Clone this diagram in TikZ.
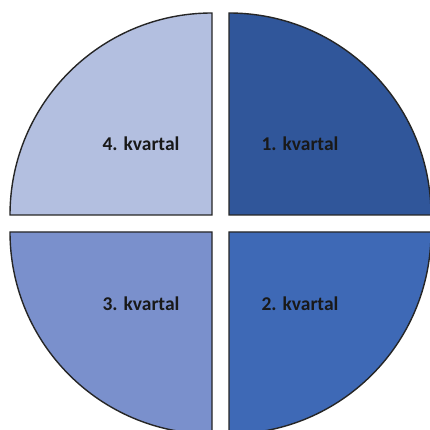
\documentclass[tikz,border=0pt]{standalone}
\usepackage{fontspec}
\setmainfont{Carlito}
\definecolor{qone}{RGB}{48,86,154}
\definecolor{qtwo}{RGB}{62,105,182}
\definecolor{qthree}{RGB}{122,144,204}
\definecolor{qfour}{RGB}{179,191,224}
\begin{document}
\begin{tikzpicture}[x=1pt,y=1pt,
  quad/.style={draw=black!85,line width=1.4pt,line join=miter},
  lbl/.style={font=\fontsize{19.5}{22}\selectfont\bfseries,text=black!90,inner sep=0pt}]
\useasboundingbox (0,0) rectangle (430,430);
\clip (0,0) rectangle (430,430);
\fill[white] (0,0) rectangle (430,430);
% quadrant 1 (top right)
\draw[quad,fill=qone] (229,215) -- (229,417) arc[start angle=90,end angle=0,radius=202] -- cycle;
% quadrant 4 (top left)
\draw[quad,fill=qfour] (212,215) -- (212,417) arc[start angle=90,end angle=180,radius=202] -- cycle;
% quadrant 3 (bottom left)
\draw[quad,fill=qthree] (212,198) -- (212,-4) arc[start angle=270,end angle=180,radius=202] -- cycle;
% quadrant 2 (bottom right)
\draw[quad,fill=qtwo] (229,198) -- (229,-4) arc[start angle=270,end angle=360,radius=202] -- cycle;
\node[lbl] (l4) at (141,286) {4. kvartal};
\node[lbl] (l1) at (300,286) {1. kvartal};
\node[lbl] (l3) at (141,126) {3. kvartal};
\node[lbl] (l2) at (300,126) {2. kvartal};
\end{tikzpicture}
\end{document}
